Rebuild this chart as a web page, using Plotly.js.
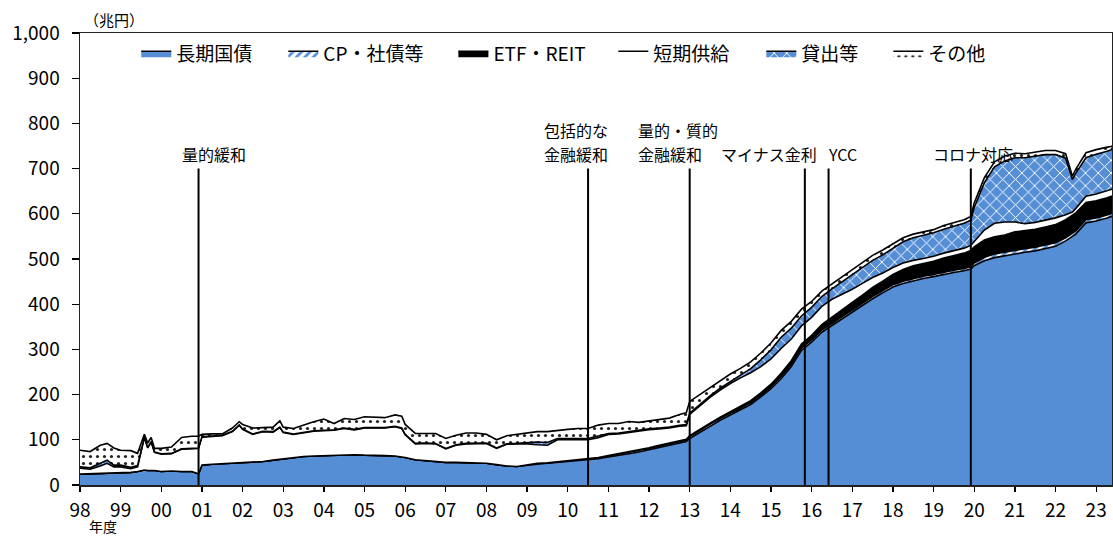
<!DOCTYPE html>
<html>
<head>
<meta charset="utf-8">
<script src="https://cdn.plot.ly/plotly-3.0.1.min.js"></script>
<style>
  html, body { margin: 0; padding: 0; background: #ffffff; }
  #chart { width: 1113px; height: 537px; }
</style>
</head>
<body>
<div id="chart"></div>
<script>
// 日本銀行の資産残高の内訳（兆円）。観測月（年-月）ごとの値。
const months = [
  '1998-04','1998-07','1998-10','1998-12','1999-02',
  '1999-04','1999-07','1999-09','1999-11','1999-12','2000-01','2000-02',
  '2000-04','2000-07','2000-10','2001-01','2001-03',
  '2001-04','2001-07','2001-10','2002-01','2002-03',
  '2002-04','2002-07','2002-10','2003-01','2003-03',
  '2003-04','2003-07','2003-10','2004-01',
  '2004-04','2004-07','2004-10','2005-01',
  '2005-04','2005-07','2005-10','2006-01','2006-03',
  '2006-04','2006-07','2006-10','2007-01',
  '2007-04','2007-07','2007-10','2008-01',
  '2008-04','2008-07','2008-10','2009-01',
  '2009-04','2009-07','2009-10','2010-01',
  '2010-04','2010-07','2010-10','2011-01',
  '2011-04','2011-07','2011-10','2012-01',
  '2012-04','2012-07','2012-10','2013-01','2013-03',
  '2013-04','2013-07','2013-10','2014-01',
  '2014-04','2014-07','2014-10','2015-01',
  '2015-04','2015-07','2015-10','2016-01',
  '2016-04','2016-07','2016-10','2017-01',
  '2017-04','2017-07','2017-10','2018-01',
  '2018-04','2018-07','2018-10','2019-01',
  '2019-04','2019-07','2019-10','2020-01','2020-03',
  '2020-04','2020-07','2020-10','2021-01',
  '2021-04','2021-07','2021-10','2022-01',
  '2022-04','2022-07','2022-09','2022-10','2023-01',
  '2023-04','2023-07','2023-09'
];

// 長期国債
const jgb = [
  24, 25, 25, 26, 26,
  27, 28, 30, 33, 32, 32, 32,
  30, 31, 30, 30, 25,
  44, 46, 47, 48, 48,
  49, 50, 52, 55, 57,
  58, 60, 63, 64,
  65, 66, 67, 67,
  66, 66, 65, 64, 63,
  61, 56, 54, 51,
  50, 50, 49, 48,
  48, 45, 42, 41,
  44, 46, 48, 50,
  52, 54, 56, 58,
  62, 65, 69, 73,
  78, 83, 88, 93, 96,
  103, 117, 130, 143,
  155, 166, 178, 195,
  213, 235, 262, 298,
  316, 338, 353, 368,
  382, 397, 412, 425,
  438, 446, 452, 457,
  461, 466, 470, 474, 478,
  485, 496, 503, 507,
  512, 515, 518, 523,
  528, 540, 549, 555, 580,
  584, 590, 595
];

// CP・社債等
const cpBonds = [
  0, 0, 0, 0, 0,
  0, 0, 0, 0, 0, 0, 0,
  0, 0, 0, 0, 0,
  0, 0, 0, 0, 0,
  0, 0, 0, 0, 0,
  0, 0, 0, 0,
  0, 0, 0, 0,
  0, 0, 0, 0, 0,
  0, 0, 0, 0,
  0, 0, 0, 0,
  0, 0, 0, 0,
  1, 2, 1, 1,
  1, 1, 1, 2,
  2, 3, 3, 3,
  3, 3, 3, 3, 3,
  4, 4, 4, 4,
  4, 4, 4, 4,
  4, 5, 5, 5,
  5, 5, 5, 5,
  5, 5, 5, 5,
  5, 5, 5, 5,
  5, 5, 5, 5, 5,
  6, 8, 8, 8,
  8, 8, 8, 8,
  8, 7, 7, 7, 7,
  7, 7, 7
];

// ETF・REIT
const etfReit = [
  0, 0, 0, 0, 0,
  0, 0, 0, 0, 0, 0, 0,
  0, 0, 0, 0, 0,
  0, 0, 0, 0, 0,
  0, 0, 0, 0, 0,
  0, 0, 0, 0,
  0, 0, 0, 0,
  0, 0, 0, 0, 0,
  0, 0, 0, 0,
  0, 0, 0, 0,
  0, 0, 0, 0,
  0, 0, 0, 0,
  0, 0, 0, 0.5,
  1, 1, 1.5, 1.5,
  1.5, 2, 2, 2, 2,
  2, 2.5, 3, 3,
  3.5, 4, 4.5, 5,
  6, 7, 8, 9,
  10, 12, 14, 16,
  17, 18, 20, 21,
  23, 26, 28, 28,
  29, 31, 32, 34, 36,
  36, 38, 38, 38,
  40, 40, 40, 40,
  40, 40, 40, 40, 38,
  38, 38, 38
];

// 短期供給
const shortTerm = [
  13, 10, 17, 22, 14,
  13, 8, 10, 72, 50, 63, 40,
  38, 38, 49, 50, 56,
  62, 62, 62, 70, 84,
  74, 62, 66, 62, 70,
  58, 52, 53, 55,
  55, 55, 58, 55,
  60, 60, 61, 65, 62,
  50, 35, 38, 40,
  30, 38, 42, 44,
  44, 36, 48, 50,
  46, 41, 39, 49,
  47, 45, 43, 44,
  47, 44, 43, 43,
  40, 36, 33, 32, 30,
  47, 52, 57, 60,
  62, 63, 62, 58,
  56, 55, 48, 40,
  40, 40, 39, 33,
  29, 26, 22, 18,
  15, 14, 12, 11,
  11, 11, 11, 11, 11,
  12, 22, 30, 29,
  22, 15, 15, 15,
  15, 11, 8, 10, 14,
  15, 15, 15
];

// 貸出等
const loans = [
  3, 3, 6, 7, 4,
  4, 3, 3, 1, 1, 1, 1,
  1, 1, 1, 1, 1,
  1, 1, 1, 1, 1,
  1, 1, 1, 1, 1,
  1, 1, 1, 1,
  1, 1, 1, 1,
  1, 1, 1, 1, 1,
  1, 1, 1, 1,
  1, 1, 1, 1,
  1, 1, 1, 1,
  2, 6, 6, 3,
  3, 3, 3, 4,
  2, 2, 2, 2,
  2, 2, 2, 2, 3,
  3, 3, 3, 4,
  5, 6, 9, 15,
  20, 25, 24, 22,
  22, 22, 23, 28,
  33, 37, 38, 40,
  42, 47, 50, 51,
  52, 53, 54, 55, 56,
  75, 105, 125, 135,
  142, 146, 147, 145,
  140, 125, 72, 78, 85,
  88, 88, 88
];

// その他
const others = [
  37, 36, 40, 37, 38,
  33, 37, 27, 6, 10, 9, 8,
  12, 14, 25, 27, 26,
  5, 4, 3, 7, 7,
  10, 13, 8, 10, 14,
  11, 12, 16, 20,
  25, 14, 21, 22,
  24, 23, 22, 25, 26,
  22, 22, 21, 22,
  22, 21, 23, 22,
  19, 18, 18, 20,
  22, 23, 24, 18,
  20, 22, 22, 24,
  22, 21, 22, 16,
  17, 19, 20, 24, 26,
  26, 22, 19, 18,
  16, 15, 15, 15,
  15, 15, 15, 15,
  13, 12, 11, 11,
  11, 11, 11, 11,
  10, 9, 8, 8,
  7, 8, 8, 8, 8,
  10, 11, 11, 11,
  10, 9, 9, 9,
  9, 10, 7, 9, 11,
  10, 9, 7
];

// 年度目盛り
const fiscalYears = [1998,1999,2000,2001,2002,2003,2004,2005,2006,2007,2008,2009,2010,
  2011,2012,2013,2014,2015,2016,2017,2018,2019,2020,2021,2022,2023];
const fiscalYearLabels = ['98','99','00','01','02','03','04','05','06','07','08','09','10',
  '11','12','13','14','15','16','17','18','19','20','21','22','23'];
const yTicks = [0,100,200,300,400,500,600,700,800,900,1000];
const yTickLabels = ['0','100','200','300','400','500','600','700','800','900','1,000'];

// 政策イベント
const eventLabels = ['量的緩和','包括的な<br>金融緩和','量的・質的<br>金融緩和','マイナス金利','YCC','コロナ対応'];
const eventMonths = ['2001-03','2010-10','2013-04','2016-02','2016-09','2020-03'];
const eventLineTop = 700;

// --- drawing ---
// 年度ベースの横軸：4月を年度の始まりとする
const fiscalPos = m => { const p = m.split('-').map(Number); return p[0] + (p[1] - 4) / 12; };
const x = months.map(fiscalPos);

const BLUE = '#558ed5';
const FONT = '"Noto Sans CJK JP", "Noto Sans", sans-serif';

const series = [
  { name: '長期国債',   y: jgb,       fillcolor: BLUE },
  { name: 'CP・社債等', y: cpBonds,   fillcolor: '#ffffff',
    fillpattern: { shape: '/', fgcolor: BLUE, bgcolor: '#ffffff', size: 6, solidity: 0.45 } },
  { name: 'ETF・REIT',  y: etfReit,   fillcolor: '#000000' },
  { name: '短期供給',   y: shortTerm, fillcolor: '#ffffff' },
  { name: '貸出等',     y: loans,     fillcolor: BLUE,
    fillpattern: { shape: 'x', fgcolor: '#ffffff', bgcolor: BLUE, size: 9, solidity: 0.2 } },
  { name: 'その他',     y: others,    fillcolor: '#ffffff',
    fillpattern: { shape: '.', fgcolor: '#222222', bgcolor: '#ffffff', size: 7, solidity: 0.16 } }
];

// 凡例は項目ごとに独立させて横に並べる
const legendIds = ['legend','legend2','legend3','legend4','legend5','legend6'];
const legendLeft = [0.0545, 0.1970, 0.3618, 0.5168, 0.6602, 0.7833];

const traces = series.map((s, i) => {
  const t = {
    type: 'scatter', mode: 'lines', x: x, y: s.y, name: s.name,
    stackgroup: 'assets',
    line: { color: '#000000', width: 1.6, shape: 'linear' },
    fillcolor: s.fillcolor,
    legend: legendIds[i],
    hoverinfo: 'skip'
  };
  if (s.fillpattern) t.fillpattern = s.fillpattern;
  return t;
});

const layout = {
  width: 1113, height: 537,
  margin: { l: 80, r: 1, t: 33, b: 52, pad: 0 },
  paper_bgcolor: '#ffffff', plot_bgcolor: '#ffffff',
  font: { family: FONT, color: '#000000', size: 16 },
  showlegend: true,
  xaxis: {
    range: [1998, 2023.39], tickmode: 'array', tickvals: fiscalYears, ticktext: fiscalYearLabels,
    ticks: 'outside', ticklen: 5, tickwidth: 1.3, tickcolor: '#000000',
    showline: true, linecolor: '#222222', linewidth: 1.5, mirror: true,
    showgrid: false, zeroline: false, ticklabelstandoff: 3,
    tickfont: { family: FONT, size: 19, color: '#000000' }, fixedrange: true
  },
  yaxis: {
    range: [0, 1000], tickmode: 'array', tickvals: yTicks, ticktext: yTickLabels,
    ticks: 'outside', ticklen: 7, tickwidth: 1.3, tickcolor: '#000000',
    showline: true, linecolor: '#222222', linewidth: 1.5, mirror: true,
    showgrid: false, zeroline: false, ticklabelstandoff: 8,
    tickfont: { family: FONT, size: 19, color: '#000000' }, fixedrange: true
  },
  shapes: eventMonths.map(m => ({
    type: 'line', xref: 'x', yref: 'y', x0: fiscalPos(m), x1: fiscalPos(m), y0: 0, y1: eventLineTop,
    line: { color: '#000000', width: 2 }, layer: 'above'
  })),
  annotations: [],
  hovermode: false
};

legendIds.forEach((id, i) => {
  layout[id] = {
    x: legendLeft[i], y: 0.997, xanchor: 'left', yanchor: 'top',
    orientation: 'h', bgcolor: 'rgba(0,0,0,0)', borderwidth: 0,
    font: { family: FONT, size: 19, color: '#000000' }
  };
});

// イベント名：線からの左端のずれ(px)と行間(px)
const eventLabelShift = [-18, -45, -53, -85, -2, -39];
const eventLineGap = 24;
eventLabels.forEach((label, i) => {
  const rows = label.split('<br>');
  rows.forEach((row, k) => {
    layout.annotations.push({
      x: fiscalPos(eventMonths[i]), y: eventLineTop, xref: 'x', yref: 'y',
      text: row, showarrow: false, align: 'left',
      xanchor: 'left', yanchor: 'bottom', borderpad: 0,
      xshift: eventLabelShift[i], yshift: 2 + (rows.length - 1 - k) * eventLineGap,
      font: { family: FONT, size: 16, color: '#000000' }
    });
  });
});

layout.annotations.push({
  xref: 'paper', yref: 'paper', x: 0, y: 1, xanchor: 'left', yanchor: 'bottom',
  xshift: 2, yshift: 1, text: '（兆円）', showarrow: false,
  font: { family: FONT, size: 15, color: '#000000' }
});
layout.annotations.push({
  xref: 'paper', yref: 'paper', x: 0, y: 0, xanchor: 'left', yanchor: 'bottom',
  xshift: 8, yshift: -52, borderpad: 0, text: '年度', showarrow: false,
  font: { family: FONT, size: 14, color: '#000000' }
});

Plotly.newPlot('chart', traces, layout, { displayModeBar: false, staticPlot: true });
</script>
</body>
</html>
